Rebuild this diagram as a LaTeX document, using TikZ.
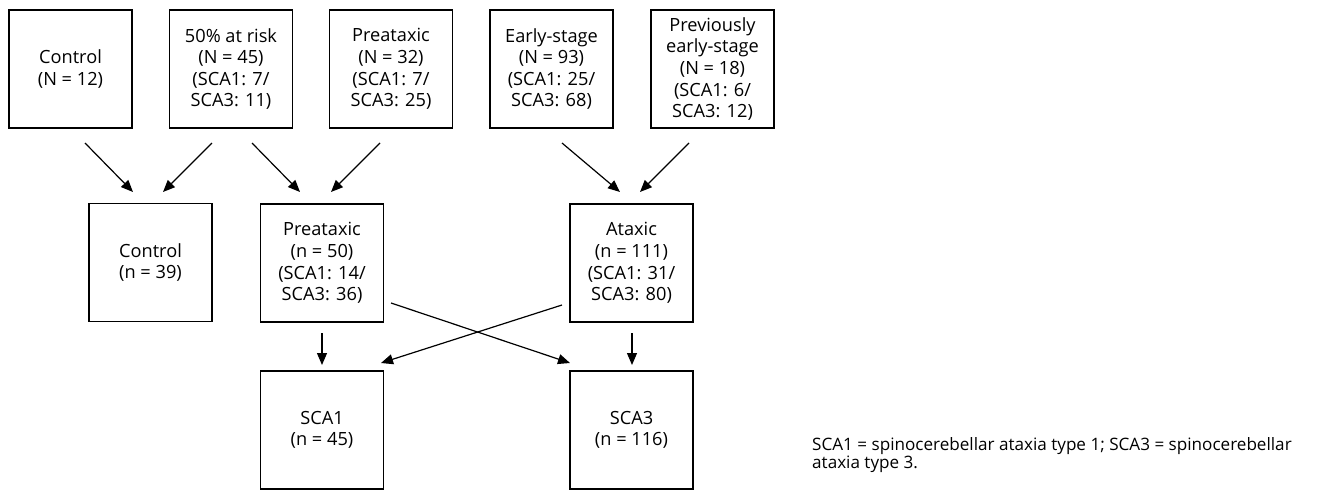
\documentclass[tikz,border=0pt]{standalone}
\usepackage{fontspec}
\setmainfont{Open Sans}
\usetikzlibrary{arrows.meta}
\begin{document}
\begin{tikzpicture}[x=1pt,y=-1pt,
  box/.style={draw, line width=1.2pt, minimum width=123pt, minimum height=118pt, inner sep=0pt, align=center, font=\fontsize{18.2}{21.6}\selectfont},
  arr/.style={line width=1.2pt, -{Triangle[length=12pt,width=10pt]}},
  notetext/.style={anchor=base west, align=left, inner sep=0pt, font=\fontsize{17.1}{18}\selectfont}]
\useasboundingbox (0,0) rectangle (1336,493);
% top row
\node[box] (c1) at (70.5,69) {Control\\(N = 12)};
\node[box] (r1) at (231,69) {50\% at risk\\(N = 45)\\(SCA1: 7/\\SCA3: 11)};
\node[box] (p1) at (391,69) {Preataxic\\(N = 32)\\(SCA1: 7/\\SCA3: 25)};
\node[box] (e1) at (551.5,69) {Early-stage\\(N = 93)\\(SCA1: 25/\\SCA3: 68)};
\node[box] (v1) at (712.5,69) {Previously\\early-stage\\(N = 18)\\(SCA1: 6/\\SCA3: 12)};
% middle row
\node[box] (c2) at (150.5,262.5) {Control\\(n = 39)};
\node[box] (p2) at (322,263) {Preataxic\\(n = 50)\\(SCA1: 14/\\SCA3: 36)};
\node[box] (a2) at (631.5,263) {Ataxic\\(n = 111)\\(SCA1: 31/\\SCA3: 80)};
% bottom row
\node[box] (s1) at (322,430) {SCA1\\(n = 45)};
\node[box] (s3) at (631.5,430) {SCA3\\(n = 116)};
% arrow end points
\coordinate (t1) at (85,143);  \coordinate (h1) at (133,192);
\coordinate (t2) at (212,143); \coordinate (h2) at (163,192);
\coordinate (t3) at (252,143); \coordinate (h3) at (300,192);
\coordinate (t4) at (380,143); \coordinate (h4) at (331,192);
\coordinate (t5) at (562,143); \coordinate (h5) at (620,192);
\coordinate (t6) at (689,143); \coordinate (h6) at (640,192);
\coordinate (t7) at (322,333); \coordinate (h7) at (322,365);
\coordinate (t8) at (632,333); \coordinate (h8) at (632,365);
\coordinate (t9) at (391,303); \coordinate (h9) at (570,363);
\coordinate (t10) at (562,305); \coordinate (h10) at (381,363);
\draw[arr] (t1) -- (h1);
\draw[arr] (t2) -- (h2);
\draw[arr] (t3) -- (h3);
\draw[arr] (t4) -- (h4);
\draw[arr] (t5) -- (h5);
\draw[arr] (t6) -- (h6);
\draw[arr] (t7) -- (h7);
\draw[arr] (t8) -- (h8);
\draw[arr] (t9) -- (h9);
\draw[arr] (t10) -- (h10);
% caption
\node[notetext] (note) at (812,468) {SCA1 = spinocerebellar ataxia type 1; SCA3 = spinocerebellar\\ataxia type 3.};
\end{tikzpicture}
\end{document}
